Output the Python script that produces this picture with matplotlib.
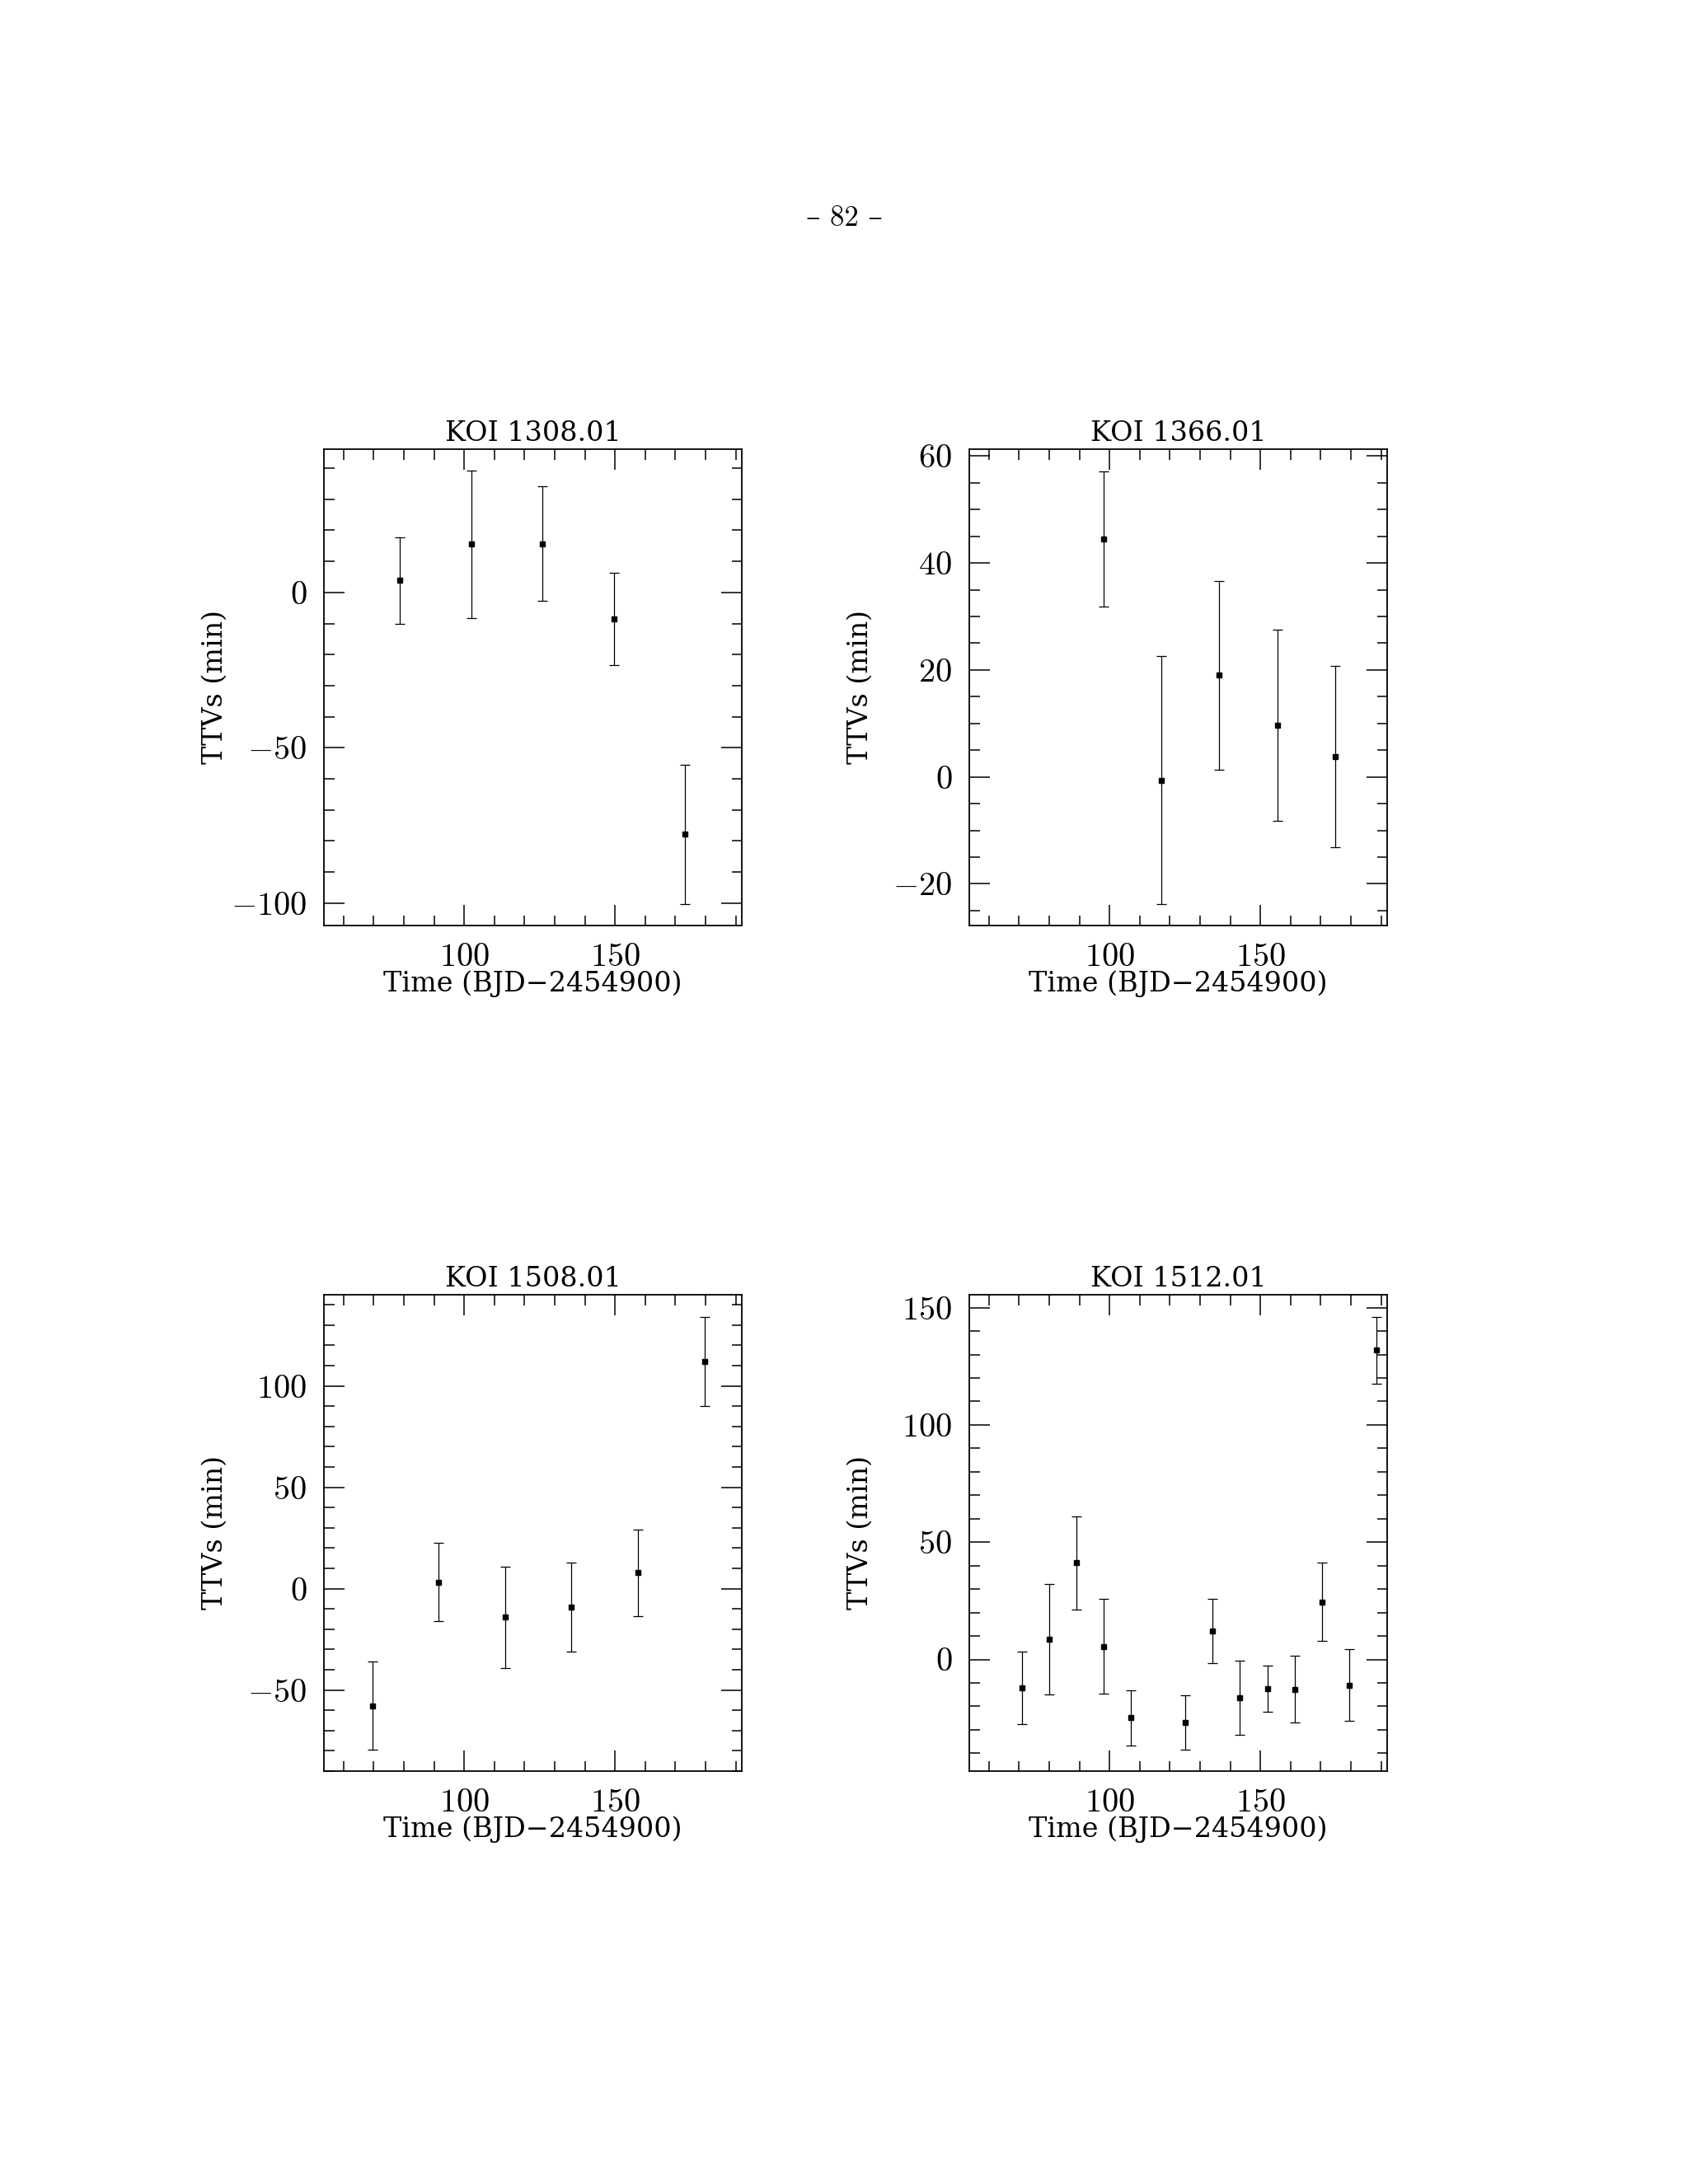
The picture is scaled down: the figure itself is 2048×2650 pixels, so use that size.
"""
TTV panels for four KOIs (page 82 figure).
"""
import matplotlib
matplotlib.use('Agg')
from matplotlib import pyplot as plt
from matplotlib.ticker import MultipleLocator

plt.rcParams['font.family'] = ['cmr10', 'DejaVu Serif']
plt.rcParams['mathtext.fontset'] = 'cm'
plt.rcParams['axes.formatter.use_mathtext'] = True
plt.rcParams['axes.unicode_minus'] = True

# KOI 1308.01
t_1308 = [78.6, 102.3, 125.9, 149.6, 173.2]
ttv_1308 = [3.8, 15.5, 15.7, -8.6, -77.8]
err_1308 = [14.0, 23.7, 18.5, 14.8, 22.4]

# KOI 1366.01
t_1366 = [97.9, 117.2, 136.3, 155.6, 174.9]
ttv_1366 = [44.5, -0.6, 19.0, 9.7, 3.8]
err_1366 = [12.7, 23.2, 17.7, 17.9, 16.9]

# KOI 1508.01
t_1508 = [69.5, 91.5, 113.5, 135.5, 157.5, 179.6]
ttv_1508 = [-57.7, 3.3, -14.0, -9.1, 7.8, 112.1]
err_1508 = [21.8, 19.5, 25.0, 21.9, 21.4, 21.8]

# KOI 1512.01
t_1512 = [70.9, 80.0, 89.0, 98.0, 107.1, 125.1, 134.1, 143.2, 152.3, 161.3,
          170.4, 179.5, 188.5]
ttv_1512 = [-12.1, 8.6, 41.2, 5.6, -24.9, -26.8, 12.1, -16.3, -12.4, -12.7,
            24.6, -11.0, 131.8]
err_1512 = [15.3, 23.5, 19.8, 20.3, 11.8, 11.6, 13.7, 15.7, 9.8, 14.3,
            16.6, 15.3, 14.2]

panels = [
    ('KOI 1308.01', t_1308, ttv_1308, err_1308, (-107.2, 46.1), 50, 10),
    ('KOI 1366.01', t_1366, ttv_1366, err_1366, (-27.8, 61.3), 20, 5),
    ('KOI 1508.01', t_1508, ttv_1508, err_1508, (-90.0, 145.0), 50, 10),
    ('KOI 1512.01', t_1512, ttv_1512, err_1512, (-47.6, 155.5), 50, 10),
]

positions = [
    [0.19189, 0.57623, 0.24756, 0.21811],
    [0.57422, 0.57623, 0.24756, 0.21811],
    [0.19189, 0.18906, 0.24756, 0.21811],
    [0.57422, 0.18906, 0.24756, 0.21811],
]

label_font = {'family': 'DejaVu Serif', 'size': 24}

fig = plt.figure(figsize=(20.48, 26.5), dpi=100)
fig.text(0.5, 1 - 265 / 2650, '\u2013 82 \u2013', ha='center', va='center',
         fontsize=25)

for (name, t, ttv, err, ylim, ymaj, ymin), pos in zip(panels, positions):
    ax = fig.add_axes(pos)
    ax.errorbar(t, ttv, yerr=err, fmt='s', color='black', ms=4.5,
                elinewidth=0.9, capsize=4, capthick=0.9)
    ax.set_xlim(53.5, 192.0)
    ax.set_ylim(*ylim)
    ax.xaxis.set_major_locator(MultipleLocator(50))
    ax.xaxis.set_minor_locator(MultipleLocator(10))
    ax.yaxis.set_major_locator(MultipleLocator(ymaj))
    ax.yaxis.set_minor_locator(MultipleLocator(ymin))
    ax.tick_params(which='both', direction='in', top=True, right=True,
                   width=1.1, labelsize=29, pad=15)
    ax.tick_params(which='major', length=18)
    ax.tick_params(which='minor', length=9)
    for sp in ax.spines.values():
        sp.set_linewidth(1.3)
    ax.set_title(name, fontdict=label_font, pad=7)
    ax.set_xlabel('Time (BJD\u22122454900)', fontdict=label_font, labelpad=-2)
    ax.set_ylabel('TTVs (min)', fontdict=label_font)
    ax.yaxis.set_label_coords(-0.229, 0.5)

plt.savefig('out.png', dpi=100)
